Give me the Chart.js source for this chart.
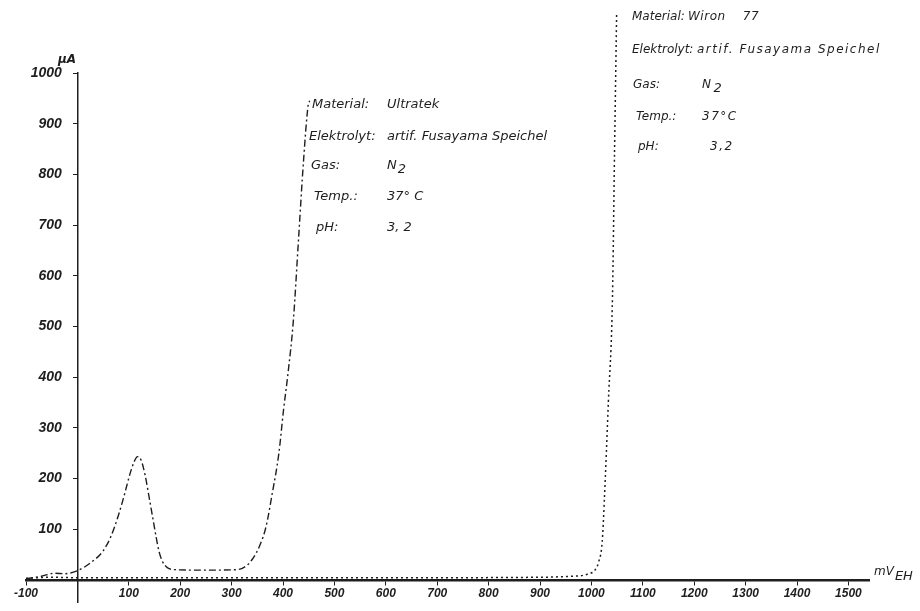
<!DOCTYPE html>
<html>
<head>
<meta charset="utf-8">
<script src="https://cdn.jsdelivr.net/npm/chart.js@4.4.0/dist/chart.umd.min.js"></script>
<style>
  body { margin: 0; background: #fff; }
  #wrap { width: 920px; height: 611px; }
</style>
</head>
<body>
<div id="wrap"><canvas id="chart"></canvas></div>
<script>
// current density curves, potential in mV (EH), current in µA
const ultratekX = [-100, -70, -45, -25, 0, 25, 50, 65, 80, 92, 102, 110, 117, 124, 132, 140, 147, 153, 159, 166, 175, 190, 250, 310, 325, 340, 355, 367, 379, 392, 401, 410, 420, 430, 440, 449, 452];
const ultratekY = [2, 7, 13, 12, 18, 33, 57, 85, 128, 170, 208, 232, 243, 236, 205, 160, 120, 85, 55, 35, 24, 20, 19, 20, 25, 40, 68, 105, 170, 250, 335, 410, 510, 669, 828, 937, 945];

const wironX = [-100, -50, 0, 300, 600, 900, 960, 985, 994, 1006, 1014, 1021, 1025, 1033, 1041, 1045, 1049];
const wironY = [3, 5, 4, 4, 4, 5, 7, 9, 12, 18, 35, 75, 154, 352, 560, 847, 1115];

const xTicks = [-100, 100, 200, 300, 400, 500, 600, 700, 800, 900, 1000, 1100, 1200, 1300, 1400, 1500];
const yTicks = [100, 200, 300, 400, 500, 600, 700, 800, 900, 1000];

const ultratekInfo = [
  ["Material:", "Ultratek"],
  ["Elektrolyt:", "artif. Fusayama Speichel"],
  ["Gas:", "N_2"],
  ["Temp.:", "37° C"],
  ["pH:", "3, 2"]
];
const wironInfo = [
  ["Material:", "Wiron    77"],
  ["Elektrolyt:", "artif. Fusayama Speichel"],
  ["Gas:", "N_2"],
  ["Temp.:", "37°C"],
  ["pH:", "3,2"]
];

const ink = '#1e1e1e';

// text with an optional subscript part after "_"
function subText(ctx, text, x, y, big, small, drop) {
  const parts = text.split('_');
  ctx.font = big;
  ctx.fillText(parts[0], x, y);
  if (parts[1]) {
    const w = ctx.measureText(parts[0]).width;
    ctx.font = small;
    ctx.fillText(parts[1], x + w + 1, y + drop);
  }
}

const notes = {
  id: 'notes',
  afterDraw(chart) {
    const ctx = chart.ctx;
    ctx.save();
    ctx.fillStyle = ink;
    ctx.textBaseline = 'middle';
    ctx.textAlign = 'left';

    // axis units
    ctx.font = 'bold italic 12px "DejaVu Sans"';
    ctx.fillText('µA', 58, 60);
    subText(ctx, 'mV_EH', 874, 572, 'italic 12px "DejaVu Sans"', 'italic 13px "DejaVu Sans"', 5);

    // Ultratek block, typed along its curve
    const uFont = 'italic 13px "DejaVu Sans"';
    const uLabelX = [312, 309, 311, 314, 316];
    const uRowY = [105, 137, 166, 197, 228];
    ultratekInfo.forEach((row, i) => {
      ctx.letterSpacing = '0px';
      ctx.font = uFont;
      ctx.fillText(row[0], uLabelX[i], uRowY[i]);
      subText(ctx, row[1], 387, uRowY[i], uFont, uFont, 4);
    });

    // Wiron block
    const wFont = 'italic 12px "DejaVu Sans"';
    const wLabelX = [632, 632, 633, 636, 638];
    const wValueX = [688, 697, 702, 702, 710];
    const wRowY = [17, 50, 85, 117, 147];
    wironInfo.forEach((row, i) => {
      ctx.letterSpacing = '0px';
      ctx.font = wFont;
      ctx.fillText(row[0], wLabelX[i], wRowY[i]);
      ctx.letterSpacing = i === 0 ? '0.5px' : '1.5px';
      subText(ctx, row[1], wValueX[i], wRowY[i], wFont, 'italic 13px "DejaVu Sans"', 4);
    });
    ctx.restore();
  }
};

new Chart(document.getElementById('chart'), {
  type: 'scatter',
  data: {
    datasets: [
      {
        label: 'Ultratek',
        data: ultratekX.map((x, i) => ({ x, y: ultratekY[i] })),
        showLine: true,
        borderColor: ink,
        borderWidth: 1.4,
        borderDash: [7, 3, 2, 3],
        pointRadius: 0,
        cubicInterpolationMode: 'monotone',
        clip: false
      },
      {
        label: 'Wiron 77',
        data: wironX.map((x, i) => ({ x, y: wironY[i] })),
        showLine: true,
        borderColor: ink,
        borderWidth: 1.5,
        borderDash: [2, 3],
        pointRadius: 0,
        cubicInterpolationMode: 'monotone',
        clip: false
      }
    ]
  },
  options: {
    responsive: true,
    maintainAspectRatio: false,
    animation: false,
    layout: { padding: { left: 26, right: 51, top: 73, bottom: 8 } },
    plugins: { legend: { display: false }, tooltip: { enabled: false } },
    scales: {
      x: {
        type: 'linear',
        min: -100,
        max: 1540,
        position: { y: 0 },
        afterBuildTicks: (scale) => { scale.ticks = xTicks.map(v => ({ value: v })); },
        grid: { drawOnChartArea: false, drawTicks: true, tickLength: 4, color: ink },
        border: { color: ink, width: 2.5 },
        ticks: {
          color: ink,
          padding: 3,
          maxRotation: 0,
          autoSkip: false,
          callback: (v) => String(v),
          font: { family: 'Liberation Sans', size: 12, style: 'italic', weight: 'bold' }
        }
      },
      y: {
        type: 'linear',
        min: -45,
        max: 1000,
        position: { x: 0 },
        afterBuildTicks: (scale) => { scale.ticks = yTicks.map(v => ({ value: v })); },
        grid: { drawOnChartArea: false, drawTicks: true, tickLength: 4, color: ink },
        border: { color: ink, width: 1.5 },
        ticks: {
          color: ink,
          padding: 0,
          autoSkip: false,
          // labels of an axis placed at x = 0 sit on the line, so push them left
          callback: (v) => String(v) + '    ',
          font: { family: 'Liberation Sans', size: 14, style: 'italic', weight: 'bold' }
        }
      }
    }
  },
  plugins: [notes]
});
</script>
</body>
</html>
